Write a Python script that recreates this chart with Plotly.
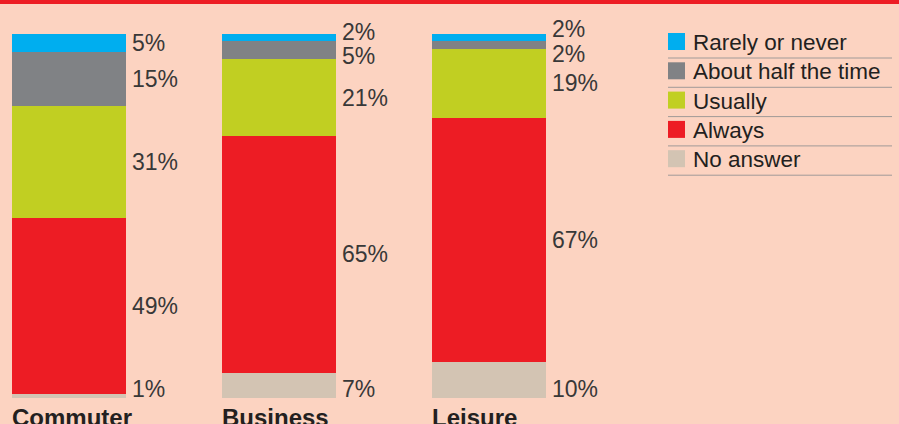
import plotly.graph_objects as go

# ---- data ----
categories = ["Commuter", "Business", "Leisure"]
# stacked from bottom to top
series_names = ["No answer", "Always", "Usually", "About half the time", "Rarely or never"]
no_answer = [1, 7, 10]
always = [49, 65, 67]
usually = [31, 21, 19]
about_half = [15, 5, 2]
rarely = [5, 2, 2]
series_values = [no_answer, always, usually, about_half, rarely]

# ---- styles ----
colors = ["#D3C4B3", "#ED1C24", "#C1CF22", "#808285", "#00AEEF"]
BG = "#FCD3C1"
W, H = 899, 424
bar_width = 0.543
x_range = [-69 / 210, (W - 69) / 210]
y_range = [-26 / 3.64, 398 / 3.64]
TEXT = "#383838"
FONT = "Liberation Sans, Arial, Helvetica, sans-serif"

fig = go.Figure()
xs = list(range(len(categories)))
for name, vals, col in zip(series_names, series_values, colors):
    fig.add_trace(go.Bar(x=xs, y=vals, name=name, marker=dict(color=col, line=dict(width=0)),
                         width=bar_width, showlegend=False, hoverinfo="skip"))

# value labels: segment centres (normalised), relaxed to avoid overlap;
# the bottom label sits at the foot of the bar
gap = 6.8
foot_y = 2.4
annotations = []
for i, cat in enumerate(categories):
    vals = [s[i] for s in series_values]
    tot = sum(vals)
    cum = 0
    centers = []
    for v in vals:
        nv = v * 100 / tot
        centers.append(cum + nv / 2)
        cum += nv
    pos = centers[:]
    pos[0] = foot_y
    for _ in range(50):
        for k in range(1, len(pos) - 1):
            d = pos[k + 1] - pos[k]
            if d < gap:
                m = (pos[k] + pos[k + 1]) / 2
                pos[k] = m - gap / 2
                pos[k + 1] = m + gap / 2
    for v, p in zip(vals, pos):
        annotations.append(dict(x=i + bar_width / 2, y=p, xref="x", yref="y", text=f"{v}%",
                                showarrow=False, xanchor="left", yanchor="middle", xshift=4,
                                font=dict(size=23, color=TEXT, family=FONT)))
    annotations.append(dict(x=i - bar_width / 2, y=0, xref="x", yref="y", text=f"<b>{cat}</b>",
                            showarrow=False, xanchor="left", yanchor="top", xshift=-2, yshift=-4,
                            font=dict(size=24, color="#231F20", family=FONT)))

# manual legend (top-to-bottom order)
shapes = []
leg_names = series_names[::-1]
leg_colors = colors[::-1]
for k, (nm, col) in enumerate(zip(leg_names, leg_colors)):
    cy = 41.5 + 29.3 * k
    shapes.append(dict(type="rect", xref="paper", yref="paper",
                       x0=668 / W, x1=685 / W, y0=1 - (cy + 8.5) / H, y1=1 - (cy - 8.5) / H,
                       fillcolor=col, line=dict(width=0)))
    ly = 58 + 29.3 * k
    shapes.append(dict(type="line", xref="paper", yref="paper",
                       x0=668 / W, x1=892 / W, y0=1 - ly / H, y1=1 - ly / H,
                       line=dict(color="#A09A98", width=1)))
    annotations.append(dict(x=691 / W, y=1 - (cy + 1) / H, xref="paper", yref="paper", text=nm,
                            showarrow=False, xanchor="left", yanchor="middle",
                            font=dict(size=22.5, color="#231F20", family=FONT)))

# top red band
shapes.append(dict(type="rect", xref="paper", yref="paper", x0=0, x1=1, y0=1 - 4 / H, y1=1,
                   fillcolor="#ED1C24", line=dict(width=0)))

fig.update_layout(
    width=W, height=H, margin=dict(l=0, r=0, t=0, b=0),
    paper_bgcolor=BG, plot_bgcolor=BG,
    barmode="stack", barnorm="percent",
    xaxis=dict(range=x_range, visible=False, fixedrange=True),
    yaxis=dict(range=y_range, visible=False, fixedrange=True),
    annotations=annotations, shapes=shapes,
)

fig.write_html("out.html")
